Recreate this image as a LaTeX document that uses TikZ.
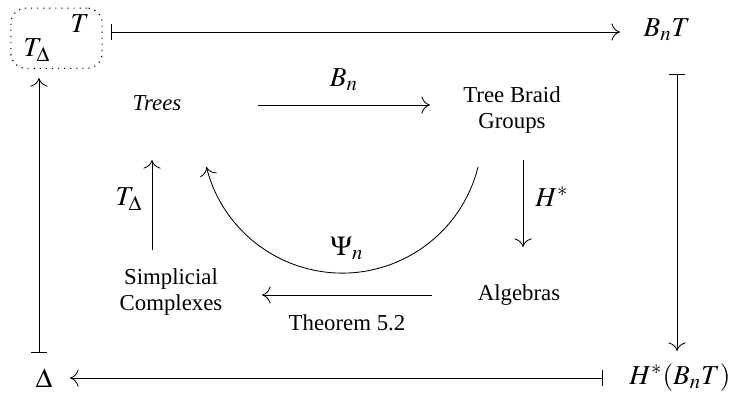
\documentclass[tikz,border=0pt]{standalone}
\usepackage{mathptmx}
\usepackage[no-math]{fontspec}
\setmainfont{Liberation Serif}
\usetikzlibrary{arrows.meta, fit, calc}
\tikzset{
    obj/.style={align=center, inner sep=3pt, font=\fontsize{12}{14}\selectfont},
    mobj/.style={inner sep=3pt, font=\fontsize{14.4}{17}\selectfont},
    arrow/.style={-{To[length=4.5pt, width=9pt]}, line width=0.45pt},
    maparrow/.style={{Bar[width=8pt]}-{To[length=4.5pt, width=9pt]}, line width=0.45pt},
    dotbox/.style={draw, line width=0.6pt, dash pattern=on 0.6pt off 2.6pt, rounded corners=8pt, inner xsep=3.5pt, inner ysep=0.5pt}
}

\begin{document}
\begin{tikzpicture}[x=0.526pt, y=0.526pt]
    \useasboundingbox (0,0) rectangle (732,393);
    \node (tt) [mobj] at (80,369) {$T$};
    \node (td) [mobj] at (37,343) {$T_\Delta$};
    \node (tbox) [dotbox, fit=(tt)(td)] {};
    \node (bnt) [mobj] at (667,363) {$B_nT$};
    \node (delta) [mobj] at (44,15) {$\Delta$};
    \node (hbnt) [mobj] at (680,15) {$H^*(B_nT)$};
    \node (trees) [obj] at (157,290) {\textit{Trees}};
    \node (tbg) [obj] at (512,283) {Tree Braid\\Groups};
    \node (alg) [obj] at (519,98) {Algebras};
    \node (sc) [obj] at (171,101) {Simplicial\\Complexes};

    \draw [maparrow] ($(tbox.east |- bnt)+(8,-2)$) -- ($(bnt.center)+(-47,-2)$);
    \draw [maparrow] ($(bnt.center)+(10,-44)$) -- ($(hbnt.center)+(-3,27)$);
    \draw [maparrow] ($(hbnt.center)+(-77,0)$) -- ($(delta.center |- hbnt.center)+(26,0)$);
    \draw [maparrow] ($(delta.center)+(-5,25)$) -- ($(delta.center |- td.center)+(-5,-28)$);

    \draw [arrow] ($(trees.center)+(101,-2)$) -- ($(tbg.center |- trees.center)+(-82,-2)$);
    \node (bnlbl) [mobj] at (344,313) {$B_n$};
    \draw [arrow] ($(tbg.center)+(11,-50)$) -- ($(tbg.center |- alg.center)+(11,48)$);
    \node (hlbl) [mobj] at (552,196) {$H^*$};
    \draw [arrow] ($(alg.center)+(-87,0)$) -- ($(sc.center |- alg.center)+(91,0)$);
    \node (thmlbl) [obj] at (347,70) {Theorem 5.2};
    \draw [arrow] ($(sc.center)+(-19,42)$) -- ($(sc.center |- trees.center)+(-19,-57)$);
    \node (tdlbl) [mobj] at (129,194) {$T_\Delta$};
    \draw [arrow] ($(tbg.center)+(-34,-57)$) arc[start angle=-14, end angle=-166, radius=73.6pt];
    \node (psilbl) [mobj] at (347,145) {$\Psi_n$};
\end{tikzpicture}
\end{document}
